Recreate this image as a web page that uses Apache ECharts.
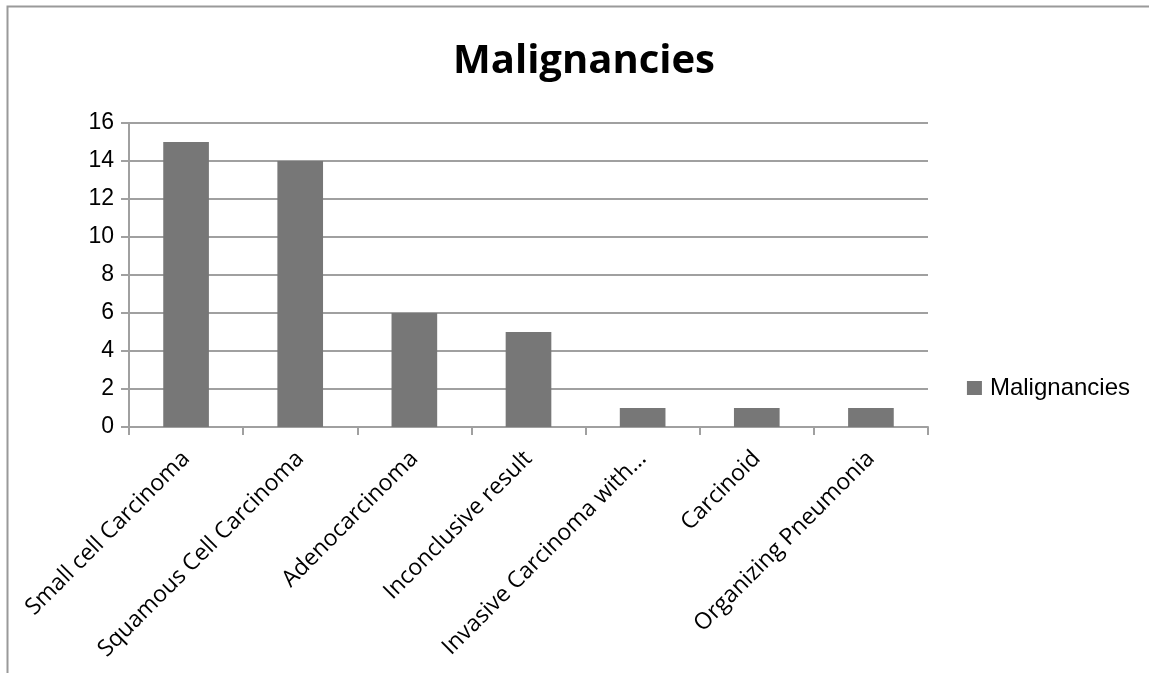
<!DOCTYPE html>
<html><head><meta charset="utf-8">
<script src="https://cdn.jsdelivr.net/npm/echarts@6/dist/echarts.min.js"></script>
<style>html,body{margin:0;padding:0;background:#fff}#c{width:1149px;height:673px}</style>
</head><body><div id="c"></div>
<script>
const categories = ["Small cell Carcinoma","Squamous Cell Carcinoma","Adenocarcinoma","Inconclusive result","Invasive Carcinoma with...","Carcinoid","Organizing Pneumonia"];
const values = [15,14,6,5,1,1,1];
const seriesName = "Malignancies";
const chart = echarts.init(document.getElementById('c'));
chart.setOption({
  animation:false,
  graphic:[
    {type:'polyline',shape:{points:[[7.5,673],[7.5,6.5],[1149,6.5]]},style:{stroke:'#9a9a9a',lineWidth:2,fill:null}}
  ],
  title:{text:'Malignancies',left:579,top:37,textAlign:'center',textStyle:{fontFamily:'Open Sans',fontWeight:'bold',fontSize:40,color:'#000'}},
  legend:{right:14,top:371,orient:'vertical',itemWidth:15,itemHeight:14,icon:'rect',
    textStyle:{fontFamily:'Liberation Sans',fontSize:24,color:'#000',padding:[0,0,0,3]}},
  grid:{left:129,top:123,width:799,height:304},
  xAxis:{type:'category',data:categories,
    axisLine:{lineStyle:{color:'#a0a0a0',width:2}},
    axisTick:{show:true,length:8,lineStyle:{color:'#a0a0a0',width:2}},
    axisLabel:{rotate:45,interval:0,margin:28,fontFamily:'Open Sans',fontSize:23,color:'#000'}},
  yAxis:{type:'value',min:0,max:16,interval:2,
    axisLine:{show:true,lineStyle:{color:'#a0a0a0',width:2}},
    axisTick:{show:true,length:8,lineStyle:{color:'#a0a0a0',width:2}},
    splitLine:{lineStyle:{color:'#a0a0a0',width:2}},
    axisLabel:{margin:15,fontFamily:'Liberation Sans',fontSize:23,color:'#000'}},
  series:[{name:seriesName,type:'bar',data:values,barWidth:'40%',itemStyle:{color:'#777777'}}]
});
</script></body></html>
